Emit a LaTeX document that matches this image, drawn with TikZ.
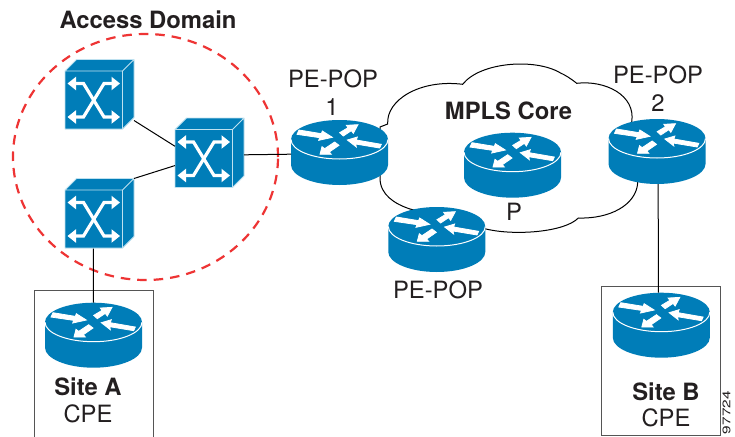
\documentclass[tikz,border=0pt]{standalone}
\usepackage{fontspec}
\setmainfont{TeX Gyre Heros}
\usetikzlibrary{arrows.meta,shapes.geometric}
\definecolor{ciscoblue}{RGB}{0,125,184}
\definecolor{edgeblue}{RGB}{190,225,240}
\definecolor{dashred}{RGB}{238,52,52}
\definecolor{inktext}{RGB}{35,31,32}
\definecolor{boxgrey}{RGB}{85,85,85}
\tikzset{
  x=1pt,y=-1pt,
  lbl/.style={inner sep=0pt,anchor=base,text=inktext,font=\fontsize{23.8}{28}\selectfont},
  lblb/.style={lbl,font=\fontsize{23.8}{28}\selectfont\bfseries},
  iconbox/.style={inner sep=0pt,outer sep=0pt,minimum width=#1,minimum height=65pt},
  swbox/.style={inner sep=0pt,outer sep=0pt,minimum width=69pt,minimum height=70pt},
  link/.style={draw=black,line width=1pt},
  sitebox/.style={draw=boxgrey,line width=1pt,inner sep=0pt},
  cloudline/.style={draw=black,line width=1pt},
  accessring/.style={draw=dashred,line width=2.2pt,dash pattern=on 9.5pt off 7pt,shape=ellipse,inner sep=0pt,minimum width=265pt,minimum height=246pt},
  rarrow/.style={fill=white,draw=white,line width=0.8pt,line join=miter},
  sarrow/.style={white,line width=3.2pt,miter limit=10,{Triangle[length=8.5pt,width=13pt]}-{Triangle[length=8.5pt,width=13pt]}}
}
% router: name, left x, top y
\newcommand{\routericon}[3]{%
  \node[iconbox=97pt] (#1) at (#2+48.5,#3+32.5) {};
  \begin{scope}[shift={(#2,#3)}]
    \fill[ciscoblue] (0,19.5) -- (0,45) .. controls (0,55.8) and (21.7,65) .. (48.5,65)
      .. controls (75.3,65) and (97,55.8) .. (97,45) -- (97,19.5)
      .. controls (97,8.7) and (75.3,0) .. (48.5,0) .. controls (21.7,0) and (0,8.7) .. (0,19.5) -- cycle;
    \draw[white,line width=1pt] (0,19.5) .. controls (0,30.3) and (21.7,39) .. (48.5,39)
      .. controls (75.3,39) and (97,30.3) .. (97,19.5);
    \begin{scope}[shift={(-3,-4)},scale=0.33333]
      \path[rarrow] (33,42) -- (27,55) -- (95,65) -- (92,73) -- (133,64) -- (103,45) -- (100,53) -- cycle;
      \path[rarrow] (210,26) -- (175,28) -- (180,35) -- (155,50) -- (166,60) -- (190,44) -- (196,52) -- cycle;
      \path[rarrow] (178,72) -- (208,63) -- (205,72) -- (280,85) -- (275,96) -- (203,84) -- (205,93) -- cycle;
      \path[rarrow] (96,115) -- (102,92) -- (110,98) -- (140,78) -- (153,88) -- (124,108) -- (130,115) -- cycle;
    \end{scope}
  \end{scope}}
% switch: name, front left x, front top y
\newcommand{\switchicon}[3]{%
  \node[swbox] (#1) at (#2+34.5,#3-11.5+35) {};
  \begin{scope}[shift={(#2,#3)}]
    \fill[ciscoblue] (0,0) -- (11.5,-11.5) -- (69,-11.5) -- (69,46.5) -- (57.5,58) -- (0,58) -- cycle;
    \draw[edgeblue,line width=0.8pt,line join=round] (0,58) -- (0,0) -- (57.5,0) -- (57.5,58) -- cycle
      (0,0) -- (11.5,-11.5) -- (69,-11.5) -- (69,46.5) -- (57.5,58) (57.5,0) -- (69,-11.5);
    \draw[sarrow] (2.5,12.5) -- (18.5,12.5) -- (39,46) -- (55,46);
    \draw[sarrow] (55,12.5) -- (39,12.5) -- (18.5,46) -- (2.5,46);
  \end{scope}}
\begin{document}
\begin{tikzpicture}
\useasboundingbox (0,0) rectangle (735,436);
\fill[white] (0,0) rectangle (735,436);
% access domain
\node[accessring] (dom) at (145.5,157) {};
% cloud
\draw[cloudline] (380,127) -- (387.7,124) .. controls (386,100) and (420,79) .. (462.7,84.3)
  .. controls (480,62) and (535,58) .. (560,72.7) .. controls (565,75) and (570,78) .. (576.7,83.3)
  .. controls (605,80) and (636,95) .. (631.7,122) -- (637.7,183)
  .. controls (636,205) and (610,219) .. (578.3,218)
  .. controls (565,232) and (515,236) .. (486,229)
  -- (410,209) .. controls (395,204) and (380,195) .. (380,178) -- cycle;
% site boxes
\node[sitebox,minimum width=119.2pt,minimum height=170pt] (sitea) at (93.9,375) {};
\node[sitebox,minimum width=118.3pt,minimum height=148.3pt] (siteb) at (660.85,360.85) {};
% devices
\switchicon{swa}{65}{71}
\switchicon{swb}{175}{129.5}
\switchicon{swc}{65}{190}
\routericon{pea}{291}{120}
\routericon{core}{464}{132.7}
\routericon{pec}{388.3}{207}
\routericon{peb}{608.5}{119}
\routericon{cpea}{45}{302.7}
\routericon{cpeb}{612.8}{292.7}
% connectors
\draw[link] (swa.-37) -- (swb.169);
\draw[link] (swc.north east) -- (swb.200);
\draw[link] (swb.-3) -- (pea.182);
\draw[link] (swc.-100) -- (cpea.north);
\draw[link] (peb.-88) -- (cpeb.95);
% labels
\node[lblb] (tdom) at (148,28.4) {Access Domain};
\node[lbl] (tpe1) at (333,87.4) {PE-POP};
\node[lbl] (tn1) at (332,115) {1};
\node[lblb] (tcore) at (508.5,119.4) {MPLS Core};
\node[lbl] (tp) at (514,220.4) {P};
\node[lbl] (tpe3) at (438,298.4) {PE-POP};
\node[lbl] (tpe2) at (658,83.4) {PE-POP};
\node[lbl] (tn2) at (658,111) {2};
\node[lblb] (tsa) at (88,395) {Site A};
\node[lbl] (tca) at (88,422.4) {CPE};
\node[lblb] (tsb) at (666,400) {Site B};
\node[lbl] (tcb) at (666,426.4) {CPE};
\node[inner sep=0pt,anchor=east,rotate=90,text=inktext,font=\fontsize{11}{13}\selectfont] (fig) at (726.5,391) {\scalebox{1.4}[1]{97724}};
\end{tikzpicture}
\end{document}
